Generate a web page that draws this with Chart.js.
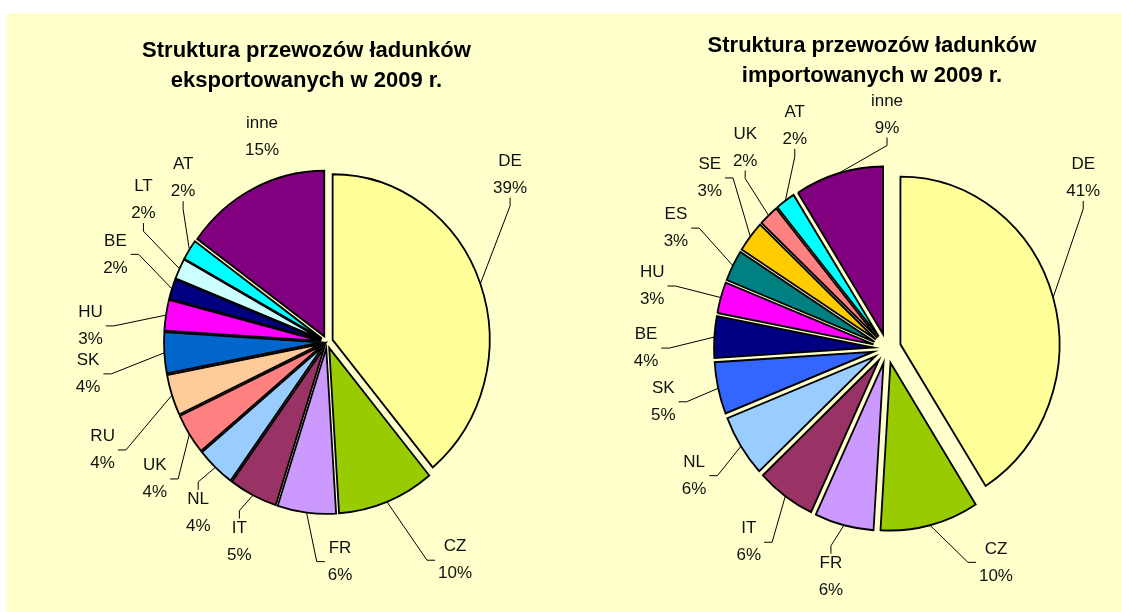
<!DOCTYPE html>
<html>
<head>
<meta charset="utf-8">
<script src="https://cdn.jsdelivr.net/npm/chart.js@4.4.0/dist/chart.umd.min.js"></script>
<style>
  body { margin: 0; background: #fff; width: 1121px; height: 612px; overflow: hidden; }
  #panel { position: absolute; left: 7px; top: 13px; width: 1114px; height: 599px; background: #ffffcc; }
  .box { position: absolute; top: 0; width: 557px; height: 599px; }
</style>
</head>
<body>
<div id="panel">
  <div class="box" style="left:0"><canvas id="exportChart"></canvas></div>
  <div class="box" style="left:557px"><canvas id="importChart"></canvas></div>
</div>
<script>
// export 2009 (%)
var exportTitle = ["Struktura przewozów ładunków", "eksportowanych w 2009 r."];
var exportCountries = ["DE", "CZ", "FR", "IT", "NL", "UK", "RU", "SK", "HU", "BE", "LT", "AT", "inne"];
var exportShares = [39, 10, 6, 5, 4, 4, 4, 4, 3, 2, 2, 2, 15];
var exportColors = ["#ffff99", "#99cc00", "#cc99ff", "#993366", "#99ccff", "#ff8080", "#ffcc99",
  "#0066cc", "#ff00ff", "#000080", "#ccffff", "#00ffff", "#800080"];

// import 2009 (%)
var importTitle = ["Struktura przewozów ładunków", "importowanych w 2009 r."];
var importCountries = ["DE", "CZ", "FR", "IT", "NL", "SK", "BE", "HU", "ES", "SE", "UK", "AT", "inne"];
var importShares = [41, 10, 6, 6, 6, 5, 4, 3, 3, 3, 2, 2, 9];
var importColors = ["#ffff99", "#99cc00", "#cc99ff", "#993366", "#99ccff", "#3366ff", "#000080",
  "#ff00ff", "#008080", "#ffcc00", "#ff8080", "#00ffff", "#800080"];

var FONT = '"Liberation Sans", Arial, sans-serif';
var STRETCH_Y = 1.055; // the original pies are a bit taller than wide

// label placement: [angle shift in deg from slice middle, distance from centre, leader line?]
var exportLabelPos = [[-22.6, 248, 1], [-8.8, 253, 1], [-10.6, 220, 1], [-3.3, 218, 1], [-6.2, 214, 1],
  [-6.1, 220, 1], [-7.7, 249, 1], [-4.0, 241, 1], [-5.1, 237, 1], [4.5, 229, 1], [12.5, 232, 1],
  [16.3, 218, 1], [9.4, 215, 0]];
var importLabelPos = [[-24.8, 260, 1], [-12.6, 240, 1], [-0.6, 235, 1], [-0.5, 238, 1], [-1.0, 231, 1],
  [-0.8, 230, 1], [-3.5, 241, 1], [-1.3, 243, 1], [2.7, 243, 1], [6.1, 246, 1], [8.0, 246, 1],
  [13.5, 241, 1], [16.2, 234, 1]];

// excel style exploded slices: plain shift along the slice middle, radius unchanged
function explodeOf(el) {
  var c = el.$context;
  if (!c || !c.dataset || c.dataset.explode == null) return 0;
  var e = c.dataset.explode;
  return Array.isArray(e) ? e[c.dataIndex] : e;
}
var arcDraw = Chart.ArcElement.prototype.draw;
Chart.ArcElement.prototype.draw = function (ctx) {
  var o = explodeOf(this);
  var mid = (this.startAngle + this.endAngle) / 2;
  ctx.save();
  ctx.translate(Math.cos(mid) * o, Math.sin(mid) * o);
  arcDraw.call(this, ctx);
  ctx.restore();
};

var stretch = {
  id: "stretch",
  beforeDatasetsDraw: function (chart) {
    var a = chart.chartArea;
    var cy = (a.top + a.bottom) / 2;
    chart.ctx.save();
    chart.ctx.translate(0, cy);
    chart.ctx.scale(1, STRETCH_Y);
    chart.ctx.translate(0, -cy);
  },
  afterDatasetsDraw: function (chart) {
    chart.ctx.restore();
  }
};

var twoLineTitle = {
  id: "twoLineTitle",
  afterDraw: function (chart, args, opts) {
    var ctx = chart.ctx;
    ctx.save();
    ctx.font = "bold 22px " + FONT;
    ctx.fillStyle = "#000";
    ctx.textAlign = "center";
    ctx.textBaseline = "alphabetic";
    opts.text.forEach(function (line, i) {
      ctx.fillText(line, opts.x, opts.y + i * 30);
    });
    ctx.restore();
  }
};

var outsideLabels = {
  id: "outsideLabels",
  afterDatasetsDraw: function (chart, args, opts) {
    var ctx = chart.ctx;
    var meta = chart.getDatasetMeta(0);
    var ds = chart.data.datasets[0];
    ctx.save();
    ctx.font = "17px " + FONT;
    ctx.fillStyle = "#111";
    ctx.strokeStyle = "#000";
    ctx.lineWidth = 1;
    ctx.textAlign = "center";
    ctx.textBaseline = "middle";
    meta.data.forEach(function (arc, i) {
      var p = arc.getProps(["x", "y", "startAngle", "endAngle", "outerRadius"], true);
      var off = explodeOf(arc);
      var mid = (p.startAngle + p.endAngle) / 2;
      var pos = opts.layout[i];
      var a = mid + pos[0] * Math.PI / 180;
      var lx = p.x + Math.cos(a) * pos[1];
      var ly = p.y + Math.sin(a) * pos[1];
      var t1 = chart.data.labels[i];
      var t2 = ds.data[i] + "%";
      var hw = Math.max(ctx.measureText(t1).width, ctx.measureText(t2).width) / 2 + 3;
      var hh = 23;
      ctx.fillText(t1, lx, ly - 13.5);
      ctx.fillText(t2, lx, ly + 13.5);
      if (!pos[2]) return;
      var px = p.x + Math.cos(mid) * (p.outerRadius + off);
      var py = p.y + Math.sin(mid) * (p.outerRadius + off) * STRETCH_Y;
      var dx = px - lx, dy = py - ly;
      var ax, ay, sx, sy;
      if (Math.abs(dx) / hw > Math.abs(dy) / hh) {
        ax = lx + Math.sign(dx) * hw; ay = ly;
        sx = ax + Math.sign(dx) * 8; sy = ay;
      } else {
        ax = lx; ay = ly + Math.sign(dy) * hh;
        sx = ax; sy = ay + Math.sign(dy) * 8;
      }
      ctx.beginPath();
      ctx.moveTo(px, py);
      ctx.lineTo(sx, sy);
      ctx.lineTo(ax, ay);
      ctx.stroke();
    });
    ctx.restore();
  }
};

function makePie(id, title, labels, values, colors, explode, radius, pad, titlePos, labelPos) {
  return new Chart(document.getElementById(id), {
    type: "pie",
    data: {
      labels: labels,
      datasets: [{
        data: values,
        backgroundColor: colors,
        borderColor: "#000",
        borderWidth: 1.8,
        borderJoinStyle: "miter",
        offset: 0,
        explode: explode
      }]
    },
    options: {
      responsive: true,
      maintainAspectRatio: false,
      animation: false,
      events: [],
      radius: radius,
      layout: { padding: pad },
      plugins: {
        legend: { display: false },
        tooltip: { enabled: false },
        twoLineTitle: { text: title, x: titlePos[0], y: titlePos[1] },
        outsideLabels: { layout: labelPos }
      }
    },
    plugins: [stretch, twoLineTitle, outsideLabels]
  });
}

makePie("exportChart", exportTitle, exportCountries, exportShares, exportColors, 6, 157,
  { left: 83, right: 0, top: 59, bottom: 0 }, [299.5, 44], exportLabelPos);
makePie("importChart", importTitle, importCountries, importShares, importColors, 14, 159,
  { left: 89, right: 0, top: 72, bottom: 0 }, [308, 39], importLabelPos);
</script>
</body>
</html>
